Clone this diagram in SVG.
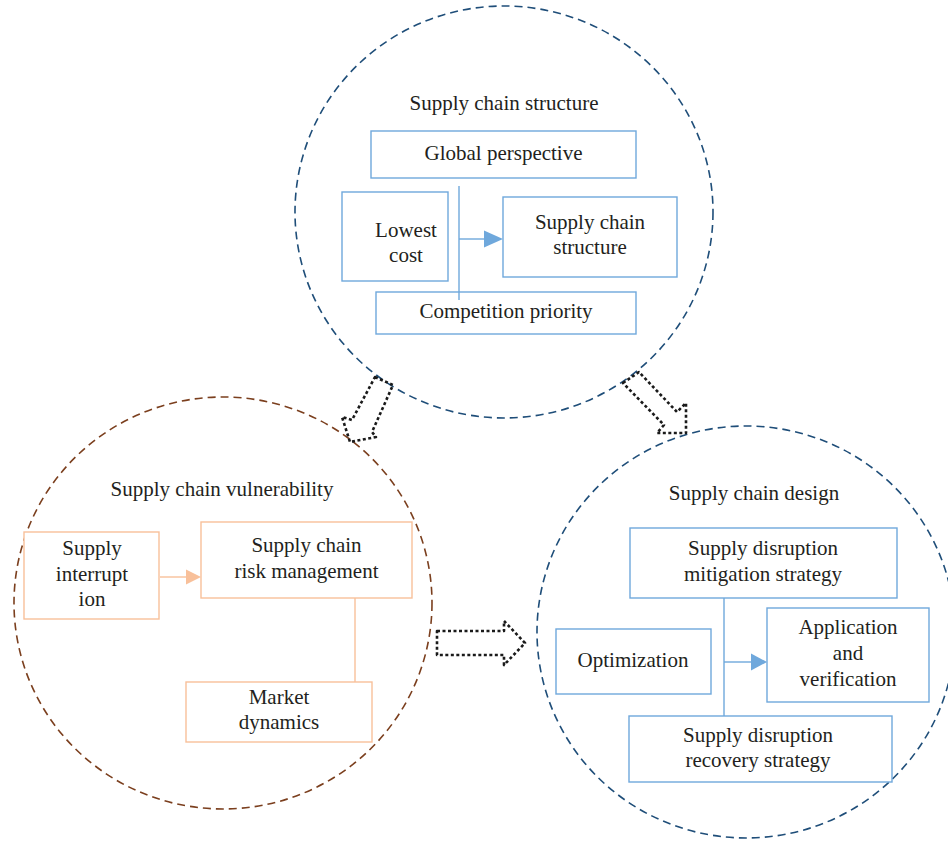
<svg xmlns="http://www.w3.org/2000/svg" width="948" height="844" viewBox="0 0 948 844">
<defs>
<style>
.t{font-family:"Liberation Serif","Times New Roman",serif;font-size:21px;fill:#231f20;text-anchor:middle}
.cb{fill:none;stroke:#1f4e79;stroke-width:1.6;stroke-dasharray:8 5}
.co{fill:none;stroke:#7b3f1e;stroke-width:1.6;stroke-dasharray:8 5}
.bb{fill:#fff;stroke:#6fa8dc;stroke-width:1.4}
.bo{fill:#fff;stroke:#f8c09a;stroke-width:1.4}
.lb{stroke:#6fa8dc;stroke-width:1.4;fill:none}
.lo{stroke:#f8c09a;stroke-width:1.4;fill:none}
.da{fill:none;stroke:#1a1a1a;stroke-width:2.6;stroke-dasharray:3 2.5;stroke-linejoin:round}
</style>
</defs>
<rect width="948" height="844" fill="#fff"/>
<g id="circles">
<ellipse class="cb" cx="504" cy="212" rx="209" ry="206"/>
<ellipse class="co" cx="223" cy="603" rx="209" ry="206"/>
<ellipse class="cb" cx="746" cy="632" rx="209" ry="206"/>
</g>
<g id="titles">
<text class="t" x="504" y="110">Supply chain structure</text>
<text class="t" x="222" y="496">Supply chain vulnerability</text>
<text class="t" x="754" y="500">Supply chain design</text>
</g>
<g id="connectors">
<line class="lb" x1="459" y1="186" x2="459" y2="300"/>
<line class="lb" x1="459" y1="239" x2="486" y2="239"/>
<polygon points="484,230.5 503,239 484,247.5" fill="#6fa8dc"/>
<line class="lo" x1="160" y1="577" x2="188" y2="577"/>
<polygon points="186,569.5 201,577 186,584.5" fill="#f8c09a"/>
<line class="lo" x1="355" y1="598" x2="355" y2="682"/>
<line class="lb" x1="724" y1="598" x2="724" y2="716"/>
<line class="lb" x1="724" y1="662" x2="753" y2="662"/>
<polygon points="751,653.5 767,662 751,670.5" fill="#6fa8dc"/>
<polygon class="da" points="375,377 393,385 372,432 376,437 350,442 342,417 352,420"/>
<polygon class="da" points="623,383 639,372 677,412 686,403 686,433 657,433 664,425"/>
<polygon class="da" points="437,631 504,631 504,621 525,643 504,665 504,655 437,655"/>
</g>
<g id="n-global">
<rect class="bb" x="371" y="131" width="265" height="47"/>
<text class="t" x="503.5" y="160">Global perspective</text>
</g>
<g id="n-lowest">
<rect class="bb" x="342" y="192" width="106" height="89"/>
<text class="t" x="406" y="237">Lowest</text>
<text class="t" x="406" y="262">cost</text>
</g>
<g id="n-scs">
<rect class="bb" x="503" y="197" width="174" height="80"/>
<text class="t" x="590" y="229">Supply chain</text>
<text class="t" x="590" y="254">structure</text>
</g>
<g id="n-competition">
<rect class="bb" x="376" y="292" width="260" height="42"/>
<text class="t" x="506" y="318">Competition priority</text>
</g>
<line class="lb" x1="459" y1="292" x2="459" y2="300"/>
<g id="n-interruption">
<rect class="bo" x="24" y="532" width="135" height="87"/>
<text class="t" x="92" y="555">Supply</text>
<text class="t" x="92" y="581">interrupt</text>
<text class="t" x="92" y="606">ion</text>
</g>
<g id="n-scrm">
<rect class="bo" x="201" y="522" width="211" height="76"/>
<text class="t" x="306.5" y="552">Supply chain</text>
<text class="t" x="306.5" y="578">risk management</text>
</g>
<g id="n-market">
<rect class="bo" x="186" y="682" width="186" height="60"/>
<text class="t" x="279" y="704">Market</text>
<text class="t" x="279" y="729">dynamics</text>
</g>
<g id="n-mitigation">
<rect class="bb" x="630" y="528" width="267" height="70"/>
<text class="t" x="763" y="555">Supply disruption</text>
<text class="t" x="763" y="581">mitigation strategy</text>
</g>
<g id="n-optimization">
<rect class="bb" x="556" y="629" width="155" height="65"/>
<text class="t" x="633" y="667">Optimization</text>
</g>
<g id="n-application">
<rect class="bb" x="767" y="608" width="162" height="94"/>
<text class="t" x="848" y="634">Application</text>
<text class="t" x="848" y="660">and</text>
<text class="t" x="848" y="686">verification</text>
</g>
<g id="n-recovery">
<rect class="bb" x="629" y="716" width="263" height="66"/>
<text class="t" x="758" y="742">Supply disruption</text>
<text class="t" x="758" y="767">recovery strategy</text>
</g>
</svg>
